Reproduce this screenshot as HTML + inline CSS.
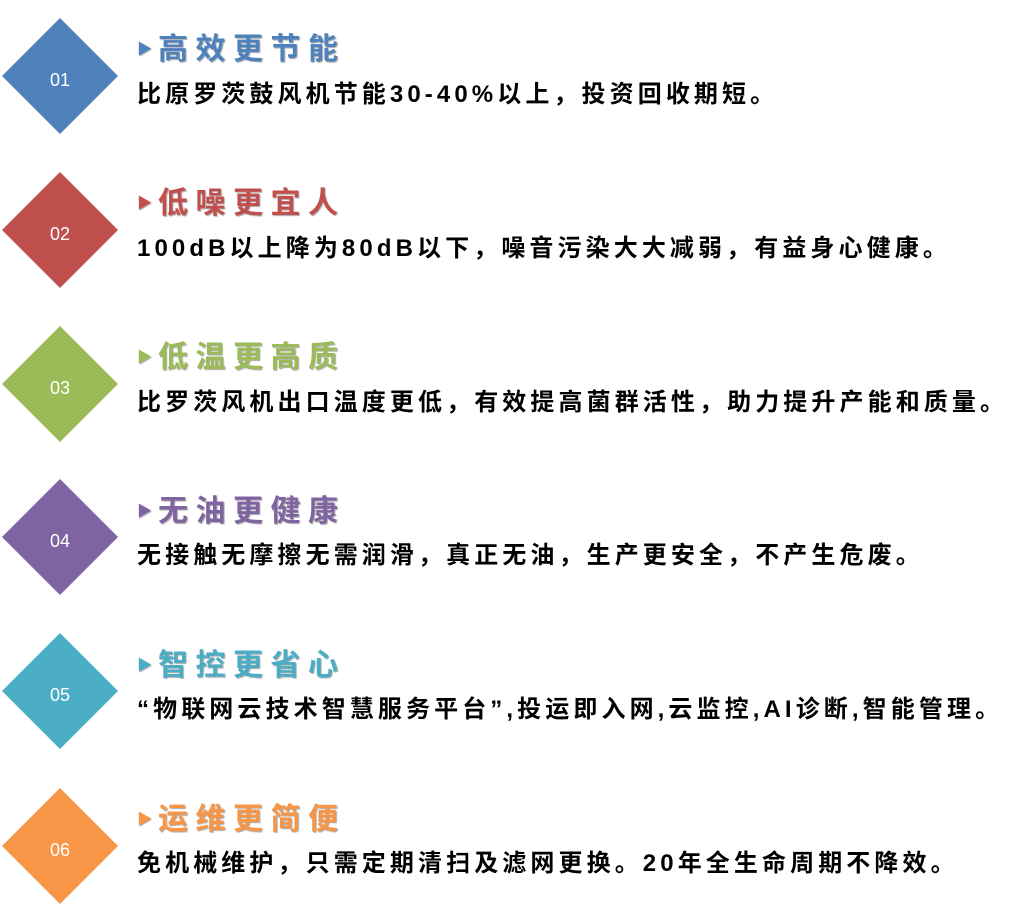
<!DOCTYPE html>
<html><head><meta charset="utf-8"><style>
body{margin:0;width:1034px;height:921px;background:#fff;position:relative;overflow:hidden;font-family:"Liberation Sans","Noto Sans CJK SC",sans-serif}
.d{position:absolute;left:2px;width:116px;height:116px}
.d svg{position:absolute;left:0;top:0}
.n{position:absolute;left:0;width:116px;text-align:center;color:#fff;font-size:18px;line-height:124px;top:0}
.t{position:absolute;left:137px;font-size:30px;font-weight:bold;letter-spacing:7.5px;line-height:34px;text-shadow:1px 1px 1px rgba(0,0,0,.35)}
.t span{font-size:15px;letter-spacing:0;vertical-align:5px;margin-right:6px}
.b{position:absolute;left:137px;font-size:24px;font-weight:bold;letter-spacing:4.1px;line-height:30px;color:#000;white-space:nowrap}
</style></head><body>

<div class="d" style="top:18px"><svg width="116" height="116"><polygon points="58,0 116,58 58,116 0,58" fill="#4f81bd"/></svg><div class="n">01</div></div>
<div class="t" style="top:33px;color:#4f81bd"><span>▶</span>高效更节能</div>
<div class="b" style="top:80px">比原罗茨鼓风机节能30-40%以上，投资回收期短。</div>

<div class="d" style="top:172px"><svg width="116" height="116"><polygon points="58,0 116,58 58,116 0,58" fill="#c0504d"/></svg><div class="n">02</div></div>
<div class="t" style="top:187px;color:#c0504d"><span>▶</span>低噪更宜人</div>
<div class="b" style="top:234px">100dB以上降为80dB以下，噪音污染大大减弱，有益身心健康。</div>

<div class="d" style="top:326px"><svg width="116" height="116"><polygon points="58,0 116,58 58,116 0,58" fill="#9bbb59"/></svg><div class="n">03</div></div>
<div class="t" style="top:341px;color:#9bbb59"><span>▶</span>低温更高质</div>
<div class="b" style="top:388px">比罗茨风机出口温度更低，有效提高菌群活性，助力提升产能和质量。</div>

<div class="d" style="top:479px"><svg width="116" height="116"><polygon points="58,0 116,58 58,116 0,58" fill="#8064a2"/></svg><div class="n">04</div></div>
<div class="t" style="top:495px;color:#8064a2"><span>▶</span>无油更健康</div>
<div class="b" style="top:541px">无接触无摩擦无需润滑，真正无油，生产更安全，不产生危废。</div>

<div class="d" style="top:633px"><svg width="116" height="116"><polygon points="58,0 116,58 58,116 0,58" fill="#4bacc6"/></svg><div class="n">05</div></div>
<div class="t" style="top:649px;color:#4bacc6"><span>▶</span>智控更省心</div>
<div class="b" style="top:695px">“物联网云技术智慧服务平台”,投运即入网,云监控,AI诊断,智能管理。</div>

<div class="d" style="top:788px"><svg width="116" height="116"><polygon points="58,0 116,58 58,116 0,58" fill="#f79646"/></svg><div class="n">06</div></div>
<div class="t" style="top:803px;color:#f79646"><span>▶</span>运维更简便</div>
<div class="b" style="top:849px">免机械维护，只需定期清扫及滤网更换。20年全生命周期不降效。</div>

</body></html>
